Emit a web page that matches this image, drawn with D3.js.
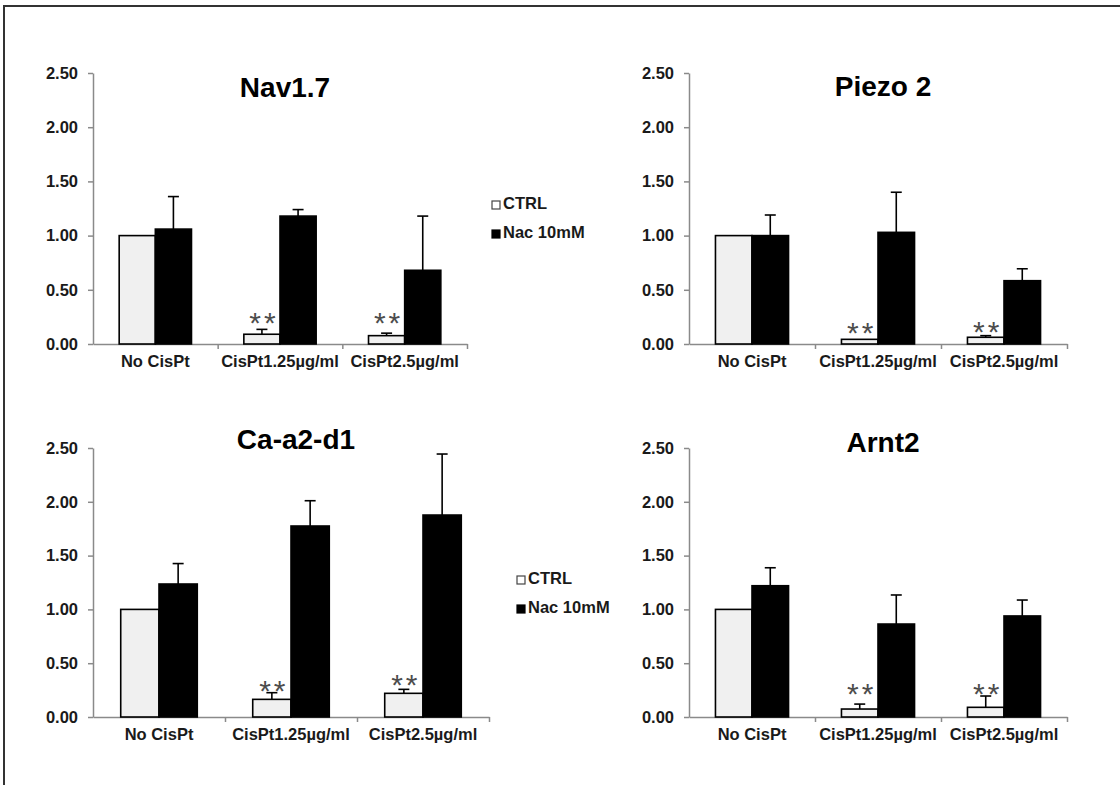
<!DOCTYPE html>
<html>
<head>
<meta charset="utf-8">
<script src="https://cdn.jsdelivr.net/npm/d3@7"></script>
<style>
  body { margin: 0; background: #fff; }
  svg { display: block; font-family: "Liberation Sans", Arial, sans-serif; }
</style>
</head>
<body>
<div id="chart"></div>
<script>
// values
const categories = ["No CisPt", "CisPt1.25µg/ml", "CisPt2.5µg/ml"];
const series = ["CTRL", "Nac 10mM"];
const yTicks = [0, 0.5, 1, 1.5, 2, 2.5];
const genes = ["Nav1.7", "Piezo 2", "Ca-a2-d1", "Arnt2"];

const ctrlMeans  = [[1.00, 0.09, 0.077], [1.00, 0.043, 0.062], [1.00, 0.164, 0.22], [1.00, 0.074, 0.09]];
const ctrlErrors = [[0, 0.045, 0.023],   [0, 0, 0.015],        [0, 0.062, 0.037],   [0, 0.046, 0.105]];
const nacMeans   = [[1.06, 1.18, 0.68],  [1.00, 1.03, 0.584],  [1.236, 1.775, 1.877], [1.22, 0.864, 0.939]];
const nacErrors  = [[0.30, 0.06, 0.50],  [0.19, 0.37, 0.11],   [0.19, 0.235, 0.567],  [0.167, 0.27, 0.148]];
// height (in y units) of the "**" marks above the CTRL bars
const starLevels = [[null, 0.25, 0.25], [null, 0.165, 0.17], [null, 0.30, 0.36], [null, 0.27, 0.27]];

const width = 1120, height = 785;

// where each of the four panels sits on the page
const panels = [
    { x0: 93,  x1: 467,  yTop: 73,  yBot: 344 },
    { x0: 689, x1: 1067, yTop: 73,  yBot: 344 },
    { x0: 93,  x1: 489,  yTop: 448, yBot: 717 },
    { x0: 689, x1: 1067, yTop: 448, yBot: 717 }
];
const titleY = [97, 96, 449, 452];
const legendPos = [{ x: 492, y: 201 }, { x: 517, y: 576 }];

const axisGrey = "#8a8a8a";
const textCol = "#1a1a1a";
const fillCol = ["#f0f0f0", "#000000"];

const svg = d3.select("#chart").append("svg")
    .attr("width", width)
    .attr("height", height);

svg.append("rect").attr("width", width).attr("height", height).attr("fill", "#fff");

// outer frame (top + left edge only are visible)
svg.append("path")
    .attr("d", `M4,${height} L4,6 L${width},6`)
    .attr("fill", "none")
    .attr("stroke", "#333")
    .attr("stroke-width", 2);

genes.forEach(function (gene, p) {
    const box = panels[p];
    const g = svg.append("g");

    const y = d3.scaleLinear().domain([0, 2.5]).range([box.yBot, box.yTop]);
    const x = d3.scaleBand().domain(categories).range([box.x0, box.x1]).padding(0);
    const bw = x.bandwidth();
    const xSub = d3.scaleBand().domain(series).range([bw * 0.21, bw * 0.79]).padding(0);
    const xEdge = d3.scaleLinear().domain([0, categories.length]).range([box.x0, box.x1]);

    const rows = categories.map((c, i) => ({
        cat: c,
        vals: [
            { s: series[0], v: ctrlMeans[p][i], e: ctrlErrors[p][i], k: 0 },
            { s: series[1], v: nacMeans[p][i], e: nacErrors[p][i], k: 1 }
        ],
        star: starLevels[p][i]
    }));

    // y axis
    const yAxis = g.append("g")
        .attr("transform", `translate(${box.x0},0)`)
        .call(d3.axisLeft(y).tickValues(yTicks).tickFormat(d3.format(".2f")).tickSizeInner(5).tickSizeOuter(0).tickPadding(10));
    yAxis.select(".domain").attr("stroke", axisGrey).attr("stroke-width", 1.5);
    yAxis.selectAll(".tick line").attr("stroke", axisGrey).attr("stroke-width", 1.5);
    yAxis.selectAll("text")
        .attr("fill", textCol)
        .style("font-size", "16.5px")
        .style("font-weight", "bold");

    // x axis: boundary ticks + category labels
    const xTicks = g.append("g")
        .attr("transform", `translate(0,${box.yBot})`)
        .call(d3.axisBottom(xEdge).tickValues(d3.range(1, categories.length + 1)).tickFormat("").tickSizeInner(5).tickSizeOuter(0));
    xTicks.select(".domain").attr("stroke", axisGrey).attr("stroke-width", 1.5);
    xTicks.selectAll(".tick line").attr("stroke", axisGrey).attr("stroke-width", 1.5);

    const xLabels = g.append("g")
        .attr("transform", `translate(0,${box.yBot})`)
        .call(d3.axisBottom(x).tickSize(0).tickPadding(11));
    xLabels.select(".domain").remove();
    xLabels.selectAll("text")
        .attr("fill", textCol)
        .style("font-size", "16.5px")
        .style("font-weight", "bold");

    // bars
    const groups = g.selectAll(".grp")
        .data(rows)
        .enter().append("g")
        .attr("class", "grp")
        .attr("transform", d => `translate(${x(d.cat)},0)`);

    groups.selectAll("rect")
        .data(d => d.vals)
        .enter().append("rect")
        .attr("x", d => xSub(d.s))
        .attr("y", d => y(d.v))
        .attr("width", xSub.bandwidth())
        .attr("height", d => y(0) - y(d.v))
        .attr("fill", d => fillCol[d.k])
        .attr("stroke", "#000")
        .attr("stroke-width", 1.6);

    // error bars (upper only)
    const cap = 5.5;
    const eb = groups.selectAll(".err")
        .data(d => d.vals.filter(v => v.e > 0))
        .enter().append("g")
        .attr("class", "err");
    eb.append("line")
        .attr("x1", d => xSub(d.s) + xSub.bandwidth() / 2)
        .attr("x2", d => xSub(d.s) + xSub.bandwidth() / 2)
        .attr("y1", d => y(d.v))
        .attr("y2", d => y(d.v + d.e))
        .attr("stroke", "#000")
        .attr("stroke-width", 1.6);
    eb.append("line")
        .attr("x1", d => xSub(d.s) + xSub.bandwidth() / 2 - cap)
        .attr("x2", d => xSub(d.s) + xSub.bandwidth() / 2 + cap)
        .attr("y1", d => y(d.v + d.e))
        .attr("y2", d => y(d.v + d.e))
        .attr("stroke", "#000")
        .attr("stroke-width", 1.6);

    // significance marks
    const starSize = 30;
    groups.filter(d => d.star !== null)
        .append("text")
        .attr("x", xSub(series[0]) + xSub.bandwidth() / 2 + 2)
        .attr("y", d => y(d.star) + starSize * 0.55)
        .attr("text-anchor", "middle")
        .attr("fill", "#4d4d4d")
        .style("font-size", starSize + "px")
        .style("letter-spacing", "3px")
        .text("**");

    // title
    g.append("text")
        .attr("x", (box.x0 + box.x1) / 2 + 5)
        .attr("y", titleY[p])
        .attr("text-anchor", "middle")
        .attr("fill", "#000")
        .style("font-size", "28px")
        .style("font-weight", "bold")
        .text(gene);
});

// legends
legendPos.forEach(function (pos) {
    const lg = svg.append("g").attr("transform", `translate(${pos.x},${pos.y})`);
    const items = lg.selectAll("g")
        .data(series)
        .enter().append("g")
        .attr("transform", (d, i) => `translate(0,${i * 29})`);
    items.append("rect")
        .attr("x", 0)
        .attr("y", 0)
        .attr("width", 8)
        .attr("height", 8)
        .attr("fill", (d, i) => i === 0 ? "#fff" : "#000")
        .attr("stroke", (d, i) => i === 0 ? "#444" : "#000")
        .attr("stroke-width", 1.2);
    items.append("text")
        .attr("x", 11)
        .attr("y", 8)
        .attr("fill", textCol)
        .style("font-size", "16.5px")
        .style("font-weight", "bold")
        .text(d => d);
});
</script>
</body>
</html>
